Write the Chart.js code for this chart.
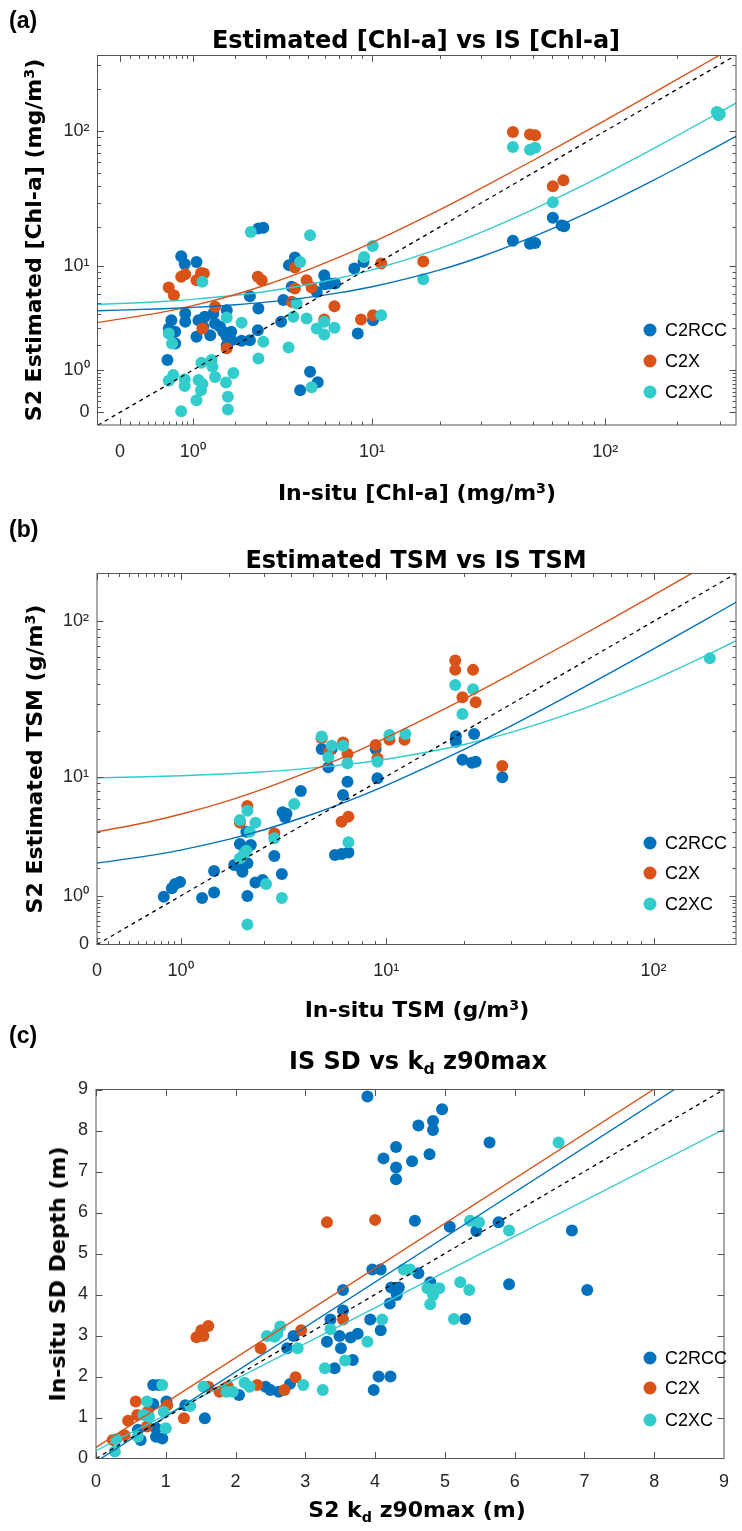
<!DOCTYPE html>
<html>
<head>
<meta charset="utf-8">
<script src="https://cdn.jsdelivr.net/npm/chart.js@4.4.1/dist/chart.umd.min.js"></script>
<style>
  html, body { margin: 0; padding: 0; background: #fff; }
  #fig { position: relative; width: 742px; height: 1531px; overflow: hidden; }
  canvas { position: absolute; left: 0; }
  .t { position: absolute; white-space: nowrap; line-height: 1; color: #000;
       font-family: "DejaVu Sans", sans-serif; font-weight: bold; }
  .pl { font-family: "Liberation Sans", sans-serif; font-size: 23px; }
  .sup { font-size: 0.65em; position: relative; top: -0.5em; }
  .sub { font-size: 0.65em; position: relative; top: 0.35em; }
  .rot { transform: translate(-50%, -50%) rotate(-90deg); }
  .ctr { transform: translateX(-50%); }
</style>
</head>
<body>
<div id="fig">
  <canvas id="chartA" width="742" height="510" style="top:0px"></canvas>
  <canvas id="chartB" width="742" height="520" style="top:510px"></canvas>
  <canvas id="chartC" width="742" height="501" style="top:1030px"></canvas>

  <div class="t pl" style="left:9px;top:9px">(a)</div>
  <div class="t ctr" style="left:416px;top:28px;font-size:24px">Estimated [Chl-a] vs IS [Chl-a]</div>
  <div class="t ctr" style="left:417px;top:482px;font-size:22px">In-situ [Chl-a] (mg/m<span class="sup">3</span>)</div>
  <div class="t rot" style="left:34px;top:240px;font-size:22px">S2 Estimated [Chl-a] (mg/m<span class="sup">3</span>)</div>

  <div class="t pl" style="left:9px;top:518px">(b)</div>
  <div class="t ctr" style="left:416px;top:548px;font-size:24px">Estimated TSM vs IS TSM</div>
  <div class="t ctr" style="left:417px;top:999px;font-size:22px">In-situ TSM (g/m<span class="sup">3</span>)</div>
  <div class="t rot" style="left:35px;top:759px;font-size:22px">S2 Estimated TSM (g/m<span class="sup">3</span>)</div>

  <div class="t pl" style="left:9px;top:1024px">(c)</div>
  <div class="t ctr" style="left:418px;top:1049px;font-size:24px">IS SD vs k<span class="sub">d</span> z90max</div>
  <div class="t ctr" style="left:417px;top:1499px;font-size:22px">S2 k<span class="sub">d</span> z90max (m)</div>
  <div class="t rot" style="left:58px;top:1274px;font-size:22px">In-situ SD Depth (m)</div>
</div>

<script>
// ---- (a) Chl-a, mg/m3 : in-situ (x) vs S2 estimate (y)
const chlRccX = [0.79, 0.85, 1.07, 2.73, 2.91, 3.99, 4.28, 5.98, 8.29, 9.14, 2.44, 3.73, 4.12, 5.5, 6.03, 6.38, 6.73, 2.73, 1.76, 0.86, 0.63, 0.59, 0.69, 0.86, 1.11, 1.24, 1.43, 1.07, 1.36, 1.47, 1.59, 1.67, 1.76, 1.89, 1.76, 2.18, 2.44, 2.71, 3.63, 0.69, 0.57, 5.10, 5.56, 4.55, 8.6, 10.1, 1.21, 1.88, 41.0, 48.4, 50.9, 60.4, 65.8, 67.4];
const chlRccY = [11.97, 10.4, 10.8, 19.4, 19.7, 10.2, 11.7, 8.49, 9.59, 10.8, 5.73, 5.31, 6.84, 6.22, 7.19, 7.28, 7.28, 4.50, 4.35, 4.07, 3.54, 2.96, 2.75, 3.42, 3.54, 3.80, 4.07, 2.46, 2.55, 3.30, 3.07, 2.75, 2.46, 2.27, 2.01, 2.24, 2.27, 2.85, 3.42, 2.10, 1.36, 0.95, 0.64, 0.44, 2.65, 3.54, 3.07, 2.75, 15.7, 14.9, 15.1, 23.4, 20.5, 20.2];
const chlC2xX = [0.59, 0.67, 0.79, 0.86, 1.07, 1.16, 1.22, 1.47, 1.19, 1.76, 2.71, 2.85, 4.28, 4.90, 5.19, 4.28, 4.12, 6.69, 5.98, 8.9, 10.1, 11.0, 16.9, 41.0, 48.4, 50.9, 60.4, 66.9];
const chlC2xY = [6.76, 5.84, 8.25, 8.66, 7.75, 8.86, 8.75, 4.65, 2.96, 1.86, 8.25, 7.75, 9.77, 7.75, 6.76, 6.63, 5.14, 4.71, 3.59, 3.59, 3.93, 10.5, 10.9, 98.5, 94.7, 93.2, 39.8, 44.0];
const chlC2xcX = [2.47, 5.10, 10.07, 9.2, 4.55, 1.19, 4.37, 1.76, 2.18, 4.20, 4.90, 5.5, 5.98, 5.98, 6.69, 11.0, 0.59, 0.64, 2.91, 3.97, 2.73, 1.17, 1.39, 1.41, 1.47, 1.94, 0.66, 0.59, 0.85, 0.85, 1.11, 1.16, 1.19, 1.07, 1.74, 1.79, 1.79, 0.79, 5.19, 16.9, 41.0, 48.4, 50.9, 60.4, 291, 296, 300];
const chlC2xcY = [18.3, 17.3, 14.3, 11.8, 10.8, 7.51, 4.97, 3.74, 3.35, 3.80, 3.67, 2.96, 3.42, 2.59, 3.01, 3.93, 2.65, 2.10, 2.18, 1.90, 1.42, 1.26, 1.36, 1.11, 0.79, 0.91, 0.85, 0.68, 0.72, 0.54, 0.70, 0.44, 0.59, 0.22, 0.63, 0.29, 0.05, 0.02, 0.51, 7.9, 76.8, 73.5, 75.9, 30.4, 137, 130, 133];
// regression curves
const chlFitX = [-0.19, 0.5, 1, 2, 3, 5, 7, 10, 20, 30, 50, 70, 100, 150, 200, 357];
const chlFitRccY = [4.30, 4.48, 4.60, 4.85, 5.10, 5.60, 6.10, 6.85, 9.35, 11.85, 16.85, 21.85, 29.35, 41.85, 54.35, 93.6];
const chlFitC2xcY = [4.87, 5.17, 5.39, 5.83, 6.27, 7.15, 8.03, 9.35, 13.75, 18.15, 26.95, 35.75, 48.95, 70.95, 92.95, 162];
const chlFitC2xX = [-0.19, 0.5, 1, 2, 3, 5, 7, 10, 20, 30, 50, 70, 100, 150, 200, 300];
const chlFitC2xY = [3.38, 4.18, 4.76, 5.92, 7.08, 9.4, 11.7, 15.2, 26.8, 38.4, 61.6, 84.8, 119.6, 177.6, 235.6, 351.6];
const chlOneX = [-0.19, 357];

// ---- (b) TSM, g/m3
const tsmRccX = [0.74, 0.86, 0.91, 0.99, 1.39, 1.64, 1.64, 2.48, 2.12, 2.27, 2.34, 2.48, 2.58, 2.27, 2.45, 2.72, 2.95, 3.35, 3.63, 3.66, 3.81, 3.76, 4.42, 6.69, 6.98, 6.19, 6.60, 7.04, 9.23, 5.44, 6.00, 5.81, 9.08, 18.6, 18.6, 21.8, 19.7, 21.4, 22.1, 27.8];
const tsmRccY = [0.98, 1.23, 1.37, 1.44, 0.94, 1.10, 1.86, 1.00, 2.11, 2.04, 1.83, 2.19, 3.14, 3.20, 4.01, 1.42, 1.51, 2.54, 1.74, 5.61, 5.46, 5.15, 7.96, 7.46, 9.23, 2.59, 2.64, 2.72, 9.74, 15.3, 15.3, 11.56, 15.3, 18.6, 17.1, 19.2, 13.0, 12.4, 12.6, 9.9];
const tsmC2xX = [5.44, 5.85, 6.69, 6.98, 9.08, 9.23, 10.3, 11.8, 18.5, 18.5, 21.6, 19.7, 22.1, 2.48, 2.27, 3.35, 6.60, 7.04, 27.8];
const tsmC2xY = [18.0, 14.7, 16.9, 14.2, 16.3, 13.3, 17.6, 17.6, 56.7, 49.5, 49.5, 33.1, 30.8, 6.23, 4.70, 3.89, 4.78, 5.21, 11.8];
const tsmC2xcX = [18.5, 21.6, 19.7, 160, 5.44, 6.0, 5.81, 6.69, 6.98, 9.23, 10.3, 11.9, 2.48, 2.27, 2.72, 2.55, 4.13, 3.35, 2.27, 2.39, 2.45, 3.06, 3.63, 2.48, 7.04];
const tsmC2xcY = [39.7, 37.3, 25.9, 58.6, 18.5, 16.1, 13.5, 16.1, 12.3, 12.6, 18.9, 19.2, 5.76, 4.92, 4.70, 4.01, 6.44, 3.56, 2.43, 2.68, 2.82, 1.37, 0.94, 0.33, 3.31];
const tsmFitX = [0, 0.5, 1, 2, 3, 5, 7, 10, 20, 30, 50, 70, 100, 150, 200];
const tsmFitRccY = [2.2, 2.53, 2.85, 3.5, 4.15, 5.45, 6.75, 8.7, 15.2, 21.7, 34.7, 47.7, 67.2, 99.7, 132.2];
const tsmFitC2xcY = [9.8, 9.97, 10.13, 10.46, 10.79, 11.45, 12.11, 13.1, 16.4, 19.7, 26.3, 32.9, 42.8, 59.3, 75.8];
const tsmFitC2xX = [0, 0.5, 1, 2, 3, 5, 7, 10, 20, 30, 50, 70, 100, 140];
const tsmFitC2xY = [4.0, 4.71, 5.42, 6.84, 8.26, 11.1, 13.9, 18.2, 32.4, 46.6, 75, 103.4, 146, 202.8];
const tsmOneX = [0, 199];

// ---- (c) Secchi depth (m): S2 kd z90max (x) vs in-situ SD (y)
const sdRccX = [3.54, 3.96, 4.08, 3.54, 3.36, 3.93, 2.83, 2.74, 3.31, 3.49, 3.51, 3.65, 3.75, 3.68, 3.42, 4.08, 4.62, 3.98, 4.05, 4.22, 0.82, 0.90, 0.82, 1.01, 1.28, 1.56, 0.86, 0.95, 0.86, 0.64, 0.60, 2.05, 2.43, 2.50, 2.62, 2.78, 3.89, 4.96, 4.62, 4.83, 4.83, 5.64, 4.30, 4.12, 4.53, 4.78, 4.30, 4.30, 4.57, 5.07, 5.45, 5.77, 6.82, 4.79, 4.23, 4.34, 4.31, 5.92, 7.04, 4.21, 5.29];
const sdRccY = [4.11, 4.61, 4.61, 3.61, 3.39, 3.39, 2.99, 2.69, 2.85, 2.99, 2.69, 2.95, 3.04, 2.40, 2.20, 3.13, 4.52, 1.67, 2.00, 2.00, 1.79, 1.79, 1.33, 1.39, 1.30, 0.98, 0.74, 0.49, 0.53, 0.45, 0.70, 1.55, 1.75, 1.67, 1.63, 1.82, 8.83, 8.52, 8.12, 8.23, 8.01, 7.71, 7.60, 7.32, 7.25, 7.42, 7.10, 6.81, 5.80, 5.65, 5.55, 5.76, 5.56, 4.30, 4.17, 4.17, 3.99, 4.25, 4.11, 3.78, 3.40];
const sdC2xX = [1.44, 1.51, 1.61, 1.54, 2.36, 2.94, 3.54, 2.86, 2.70, 2.31, 1.61, 1.77, 1.89, 1.26, 0.57, 0.46, 0.59, 0.74, 1.02, 0.24, 0.41, 0.73, 3.31, 4.00];
const sdC2xY = [2.96, 3.13, 3.23, 2.99, 2.69, 3.13, 3.39, 1.98, 1.67, 1.79, 1.75, 1.63, 1.75, 0.98, 1.39, 0.92, 1.06, 1.14, 1.30, 0.45, 0.57, 0.78, 5.76, 5.82];
const sdC2xcX = [2.45, 2.56, 2.64, 2.60, 2.89, 3.36, 4.10, 3.89, 3.28, 3.57, 3.25, 2.97, 2.13, 2.20, 1.87, 1.96, 1.54, 1.35, 0.95, 0.73, 0.68, 0.76, 0.97, 1.00, 0.60, 0.29, 0.27, 4.41, 4.50, 6.63, 5.36, 5.49, 5.92, 4.75, 4.85, 4.92, 4.83, 5.22, 5.35, 4.79, 5.13];
const sdC2xcY = [2.99, 2.97, 3.22, 3.04, 2.69, 3.15, 3.39, 2.85, 2.20, 2.39, 1.67, 1.79, 1.85, 1.75, 1.63, 1.63, 1.75, 1.28, 1.79, 1.39, 1.06, 1.02, 1.14, 0.74, 0.53, 0.47, 0.17, 4.61, 4.61, 7.71, 5.80, 5.76, 5.56, 4.15, 4.13, 4.15, 3.99, 4.30, 4.11, 3.76, 3.40];
const sdFitRccX = [0.07, 8.29], sdFitRccY = [0, 9];
const sdFitC2xX = [0, 7.99], sdFitC2xY = [0.27, 9];
const sdFitC2xcX = [0, 9], sdFitC2xcY = [0.19, 8.03];
const sdOneX = [0, 9];

// ---- axis ticks
const logTickVals = [0, 1, 10, 100];
const logTickText = ['0', '10⁰', '10¹', '10²'];
const logMinorVals = [0.1, 0.2, 0.3, 0.4, 0.5, 0.6, 0.7, 0.8, 0.9, 2, 3, 4, 5, 6, 7, 8, 9, 20, 30, 40, 50, 60, 70, 80, 90, 200, 300];
const sdTickVals = [0, 1, 2, 3, 4, 5, 6, 7, 8, 9];
const sdTickText = sdTickVals.map(String);

const COL_RCC = '#0072BD';
const COL_C2X = '#D95319';
const COL_C2XC = '#33CCCC';
const LABEL_FONT = { family: 'Liberation Sans', size: 18 };

const lp = (v) => Math.log10(v + 1);
const same = (v) => v;

function points(label, xs, ys, color, tf, order) {
  return {
    label,
    inLegend: true,
    data: xs.map((x, i) => ({ x: tf(x), y: tf(ys[i]) })),
    backgroundColor: color,
    borderColor: color,
    borderWidth: 0,
    pointRadius: 6,
    pointHoverRadius: 6,
    order,
  };
}

function curve(xs, ys, color, tf, dashed, order) {
  return {
    data: xs.map((x, i) => ({ x: tf(x), y: tf(ys[i]) })),
    showLine: true,
    fill: false,
    pointRadius: 0,
    borderColor: color,
    borderWidth: dashed ? 1.3 : 1.4,
    borderDash: dashed ? [4, 4] : [],
    cubicInterpolationMode: 'monotone',
    order,
  };
}

function axis(min, max, vals, text, tf, isX, size, pad) {
  return {
    type: 'linear',
    min,
    max,
    afterBuildTicks: (s) => { s.ticks = vals.map((v) => ({ value: tf(v) })); },
    afterFit: (s) => { if (isX) s.height = size; else s.width = size; },
    ticks: {
      callback: (v, i) => text[i],
      color: '#262626',
      font: LABEL_FONT,
      padding: pad,
      autoSkip: false,
      maxRotation: 0,
      minRotation: 0,
    },
    grid: { display: false, drawTicks: false },
    border: { display: false },
  };
}

// box, inward ticks on all four sides and the legend inside the axes
const matlabAxes = {
  id: 'matlabAxes',
  afterDraw(chart, args, o) {
    const { ctx, chartArea: a } = chart;
    const sx = chart.scales.x, sy = chart.scales.y;
    ctx.save();
    ctx.strokeStyle = '#555';
    ctx.lineWidth = 1;
    ctx.beginPath();
    const drawX = (vals, len) => vals.forEach((v) => {
      const p = Math.round(sx.getPixelForValue(v)) + 0.5;
      if (p < a.left || p > a.right) return;
      ctx.moveTo(p, a.bottom); ctx.lineTo(p, a.bottom - len);
      ctx.moveTo(p, a.top); ctx.lineTo(p, a.top + len);
    });
    const drawY = (vals, len) => vals.forEach((v) => {
      const p = Math.round(sy.getPixelForValue(v)) + 0.5;
      if (p < a.top || p > a.bottom) return;
      ctx.moveTo(a.left, p); ctx.lineTo(a.left + len, p);
      ctx.moveTo(a.right, p); ctx.lineTo(a.right - len, p);
    });
    drawX(o.major, 6.5); drawX(o.minor, 3.5);
    drawY(o.major, 6.5); drawY(o.minor, 3.5);
    ctx.stroke();
    ctx.strokeRect(a.left, a.top, a.right - a.left, a.bottom - a.top);

    // legend
    const items = chart.data.datasets.filter((d) => d.inLegend);
    ctx.font = '18px "Liberation Sans"';
    ctx.textBaseline = 'middle';
    ctx.textAlign = 'left';
    items.forEach((d, i) => {
      const y = o.legendY[i];
      ctx.fillStyle = d.backgroundColor;
      ctx.beginPath();
      ctx.arc(o.legendX, y, 6.5, 0, Math.PI * 2);
      ctx.fill();
      ctx.fillStyle = '#000';
      ctx.fillText(d.label, o.legendX + 15, y + 1);
    });
    ctx.restore();
  },
};

function makeChart(id, cfg) {
  return new Chart(document.getElementById(id).getContext('2d'), {
    type: 'scatter',
    data: { datasets: cfg.datasets },
    options: {
      responsive: false,
      animation: false,
      layout: { padding: { top: cfg.top, right: cfg.right, left: 0, bottom: 0 } },
      plugins: {
        legend: { display: false },
        tooltip: { enabled: false },
        matlabAxes: cfg.frame,
      },
      scales: { x: cfg.x, y: cfg.y },
    },
    plugins: [matlabAxes],
  });
}

// (a)
makeChart('chartA', {
  top: 55.5, right: 6,
  datasets: [
    points('C2RCC', chlRccX, chlRccY, COL_RCC, lp, 5),
    points('C2X', chlC2xX, chlC2xY, COL_C2X, lp, 4),
    points('C2XC', chlC2xcX, chlC2xcY, COL_C2XC, lp, 3),
    curve(chlFitX, chlFitRccY, COL_RCC, lp, false, 2),
    curve(chlFitC2xX, chlFitC2xY, COL_C2X, lp, false, 2),
    curve(chlFitX, chlFitC2xcY, COL_C2XC, lp, false, 2),
    curve(chlOneX, chlOneX, '#000', lp, true, 1),
  ],
  x: axis(-0.093, 2.545, logTickVals, logTickText, lp, true, 85, 16),
  y: axis(-0.09, 2.543, logTickVals, logTickText, lp, false, 97.5, 8),
  frame: { major: logTickVals.map(lp), minor: logMinorVals.map(lp), legendX: 650, legendY: [330, 361, 392] },
});

// (b)
makeChart('chartB', {
  top: 63.5, right: 6,
  datasets: [
    points('C2RCC', tsmRccX, tsmRccY, COL_RCC, lp, 5),
    points('C2X', tsmC2xX, tsmC2xY, COL_C2X, lp, 4),
    points('C2XC', tsmC2xcX, tsmC2xcY, COL_C2XC, lp, 3),
    curve(tsmFitX, tsmFitRccY, COL_RCC, lp, false, 2),
    curve(tsmFitC2xX, tsmFitC2xY, COL_C2X, lp, false, 2),
    curve(tsmFitX, tsmFitC2xcY, COL_C2XC, lp, false, 2),
    curve(tsmOneX, tsmOneX, '#000', lp, true, 1),
  ],
  x: axis(0, 2.301, logTickVals, logTickText, lp, true, 85.5, 16),
  y: axis(0, 2.301, logTickVals, logTickText, lp, false, 97, 8),
  frame: { major: logTickVals.map(lp), minor: logMinorVals.map(lp), legendX: 650, legendY: [333, 363, 394] },
});

// (c)
makeChart('chartC', {
  top: 59.5, right: 7,
  datasets: [
    points('C2RCC', sdRccX, sdRccY, COL_RCC, same, 5),
    points('C2X', sdC2xX, sdC2xY, COL_C2X, same, 4),
    points('C2XC', sdC2xcX, sdC2xcY, COL_C2XC, same, 3),
    curve(sdFitRccX, sdFitRccY, COL_RCC, same, false, 2),
    curve(sdFitC2xX, sdFitC2xY, COL_C2X, same, false, 2),
    curve(sdFitC2xcX, sdFitC2xcY, COL_C2XC, same, false, 2),
    curve(sdOneX, sdOneX, '#000', same, true, 1),
  ],
  x: axis(0, 9, sdTickVals, sdTickText, same, true, 72.5, 13),
  y: axis(0, 9, sdTickVals, sdTickText, same, false, 96, 8),
  frame: { major: sdTickVals, minor: [], legendX: 650, legendY: [328, 358, 390] },
});
</script>
</body>
</html>
